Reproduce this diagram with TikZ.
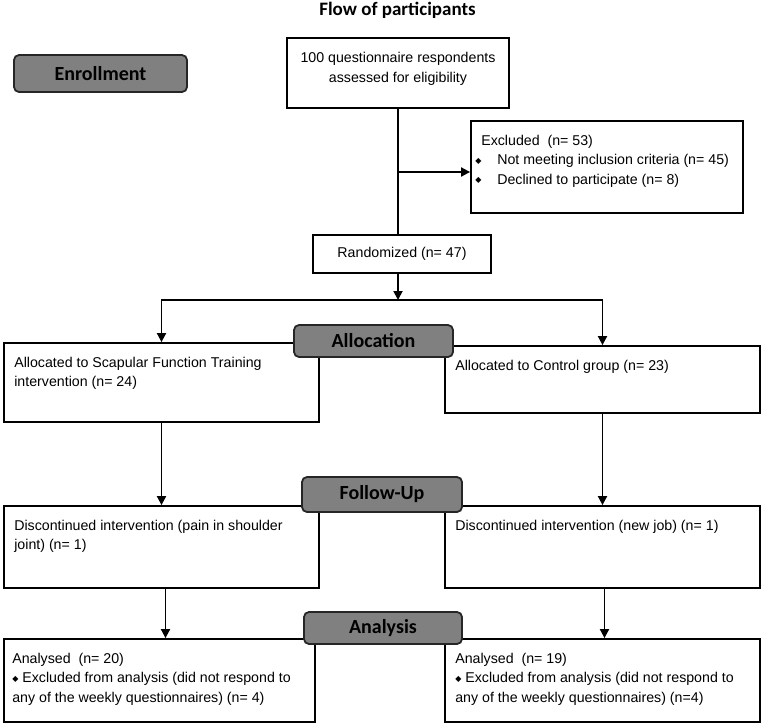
\documentclass[tikz,border=0pt]{standalone}
\usepackage{fontspec}
\setmainfont{Liberation Sans}
\newfontfamily\stagefont{Carlito}
\newfontfamily\symfont{DejaVu Sans}
\usetikzlibrary{arrows.meta}
\newcommand{\bul}{\raisebox{1.5pt}{\symfont\fontsize{8}{8}\selectfont ◆}}

\begin{document}
\begin{tikzpicture}[x=1pt, y=-1pt,
    box/.style={draw, line width=1.8pt, inner sep=0pt},
    body/.style={font=\fontsize{14.2}{19.5}\selectfont},
    txt/.style={body, align=left, inner sep=0pt, anchor=north west},
    stage/.style={draw=black!85, line width=1.8pt, fill=black!50, rounded corners=5pt,
        inner sep=0pt, font=\stagefont\bfseries\fontsize{20}{20}\selectfont},
    arr/.style={line width=1.8pt, -{Triangle[width=9pt,length=9pt]}},
    ln/.style={line width=1.8pt}]
    %%%%% START %%%%%
    \useasboundingbox (0,0) rectangle (761,723);

    \node[font=\stagefont\bfseries\fontsize{19}{20}\selectfont] (title) at (397.5,10) {Flow of participants};

    % boxes
    \node[box, minimum width=222pt, minimum height=70pt] (screen) at (398,73) {};
    \node[body, align=center] (screenT) at (398,69) {100 questionnaire respondents\\assessed for eligibility};

    \node[box, minimum width=272pt, minimum height=92pt] (excl) at (607,167) {};
    \node[txt] (exclT) at ([shift={(5pt,-14.5pt)}]excl.north west)
        {\hspace*{6pt}Excluded\ \ (n= 53)\\
         \makebox[22pt][l]{\bul}Not meeting inclusion criteria (n= 45)\\
         \makebox[22pt][l]{\bul}Declined to participate (n= 8)};

    \node[box, body, minimum width=178pt, minimum height=38pt] (rand) at (402,254) {Randomized (n= 47)};

    \node[box, minimum width=315pt, minimum height=79pt] (allocL) at (161.5,382.5) {};
    \node[txt] (allocLT) at ([shift={(11pt,-14.5pt)}]allocL.north west)
        {Allocated to Scapular Function Training\\intervention (n= 24)};
    \node[box, minimum width=315pt, minimum height=67pt] (allocR) at (602.5,379.5) {};
    \node[txt] (allocRT) at ([shift={(11pt,-14.5pt)}]allocR.north west)
        {Allocated to Control group (n= 23)};

    \node[box, minimum width=315pt, minimum height=82pt] (discL) at (161.5,547) {};
    \node[txt] (discLT) at ([shift={(11pt,-14.5pt)}]discL.north west)
        {Discontinued intervention (pain in shoulder\\joint) (n= 1)};
    \node[box, minimum width=315pt, minimum height=82pt] (discR) at (602.5,547) {};
    \node[txt] (discRT) at ([shift={(11pt,-14.5pt)}]discR.north west)
        {Discontinued intervention (new job) (n= 1)};

    \node[box, minimum width=311pt, minimum height=83pt] (anaL) at (159.5,680.5) {};
    \node[txt] (anaLT) at ([shift={(9pt,-14.5pt)}]anaL.north west)
        {Analysed\ \ (n= 20)\\
         \bul\ Excluded from analysis (did not respond to\\
         any of the weekly questionnaires) (n= 4)};
    \node[box, minimum width=315pt, minimum height=83pt] (anaR) at (602.5,680.5) {};
    \node[txt] (anaRT) at ([shift={(11pt,-14.5pt)}]anaR.north west)
        {Analysed\ \ (n= 19)\\
         \bul\ Excluded from analysis (did not respond to\\
         any of the weekly questionnaires) (n=4)};

    % connectors
    \coordinate (branch) at (398,172);
    \coordinate (split) at (398,300);
    \draw[ln] (screen.south) -- (screen.south |- rand.north);
    \draw[arr] (branch) -- (branch -| excl.west);
    \draw[arr] (split |- rand.south) -- (split);
    \draw[arr] (split) -| (allocL.north);
    \draw[arr] (split) -| (allocR.north);
    \draw[arr] (allocL.south) -- (discL.north);
    \draw[arr] (allocR.south) -- (discR.north);
    \draw[arr] ([xshift=4pt]discL.south) -- ([xshift=4pt]discL.south |- anaL.north);
    \draw[arr] ([xshift=2pt]discR.south) -- ([xshift=2pt]discR.south |- anaR.north);

    % stage labels on top
    \node[stage, minimum width=173pt, minimum height=37pt] (enroll) at (100.5,73.5) {Enrollment};
    \node[stage, minimum width=159pt, minimum height=32pt] (alloc) at (373.5,341) {Allocation};
    \node[stage, minimum width=160pt, minimum height=35pt] (follow) at (382,494.5) {Follow-Up};
    \node[stage, minimum width=158pt, minimum height=32pt] (analysis) at (383,628) {Analysis};
    %%%%% END %%%%%
\end{tikzpicture}
\end{document}
